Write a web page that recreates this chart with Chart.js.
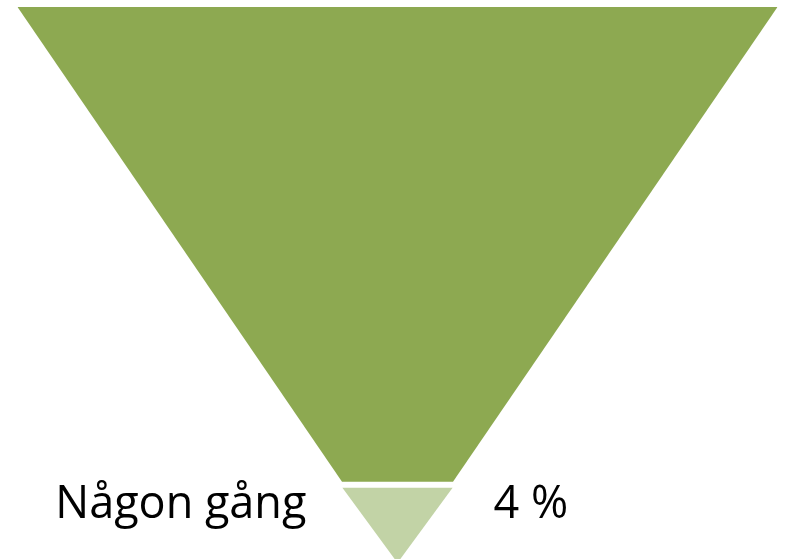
<!DOCTYPE html>
<html>
<head>
<meta charset="utf-8">
<script src="https://cdn.jsdelivr.net/npm/chart.js@4/dist/chart.umd.min.js"></script>
<style>
  html, body { margin: 0; padding: 0; background: #fff; }
  #wrap { width: 785px; height: 559px; }
</style>
</head>
<body>
<div id="wrap"><canvas id="funnel"></canvas></div>
<script>
// funnel segments, top to bottom
const segmentNames = ['', 'Någon gång'];
const segmentShares = [96, 4];
const shareLabels = ['', '4 %'];
// funnel levels (percent of funnel height, apex = 0) and widths at those levels
const levelTop = [100, 13.5];
const levelBottom = [14.6, 0];
const widthTop = [100, 14.5];
const widthBottom = [14.6, 0];
const segmentColors = ['#8DA951', '#C2D3A6'];

const ctx = document.getElementById('funnel').getContext('2d');

const datasets = segmentShares.map((v, i) => ({
  label: segmentNames[i],
  data: [
    {x: -widthTop[i] / 2, y: levelTop[i]},
    {x: widthTop[i] / 2, y: levelTop[i]},
    {x: widthBottom[i] / 2, y: levelBottom[i]},
    {x: -widthBottom[i] / 2, y: levelBottom[i]},
    {x: -widthTop[i] / 2, y: levelTop[i]}
  ],
  showLine: true,
  fill: 'shape',
  backgroundColor: segmentColors[i],
  borderColor: 'rgba(0,0,0,0)',
  borderWidth: 0,
  pointRadius: 0,
  tension: 0
}));

const labelPlugin = {
  id: 'funnelLabels',
  afterDatasetsDraw(chart) {
    const c = chart.ctx;
    const xs = chart.scales.x;
    const ys = chart.scales.y;
    c.save();
    c.font = '45px "Open Sans"';
    c.fillStyle = '#000';
    c.textBaseline = 'alphabetic';
    segmentNames.forEach((name, i) => {
      if (!name) return;
      const y = ys.getPixelForValue(levelTop[i]) + 30;
      c.textAlign = 'right';
      c.fillText(name, xs.getPixelForValue(-widthTop[i] / 2) - 36, y);
      c.textAlign = 'left';
      c.fillText(shareLabels[i], xs.getPixelForValue(widthTop[i] / 2) + 41, y);
    });
    c.restore();
  }
};

new Chart(ctx, {
  type: 'scatter',
  data: { datasets },
  options: {
    responsive: true,
    maintainAspectRatio: false,
    animation: false,
    events: [],
    layout: { padding: { left: 17.5, right: 7.5, top: 7, bottom: 0 } },
    scales: {
      x: { display: false, min: -50, max: 50 },
      y: { display: false, min: 0.7, max: 100 }
    },
    plugins: { legend: { display: false }, tooltip: { enabled: false } }
  },
  plugins: [labelPlugin]
});
</script>
</body>
</html>
